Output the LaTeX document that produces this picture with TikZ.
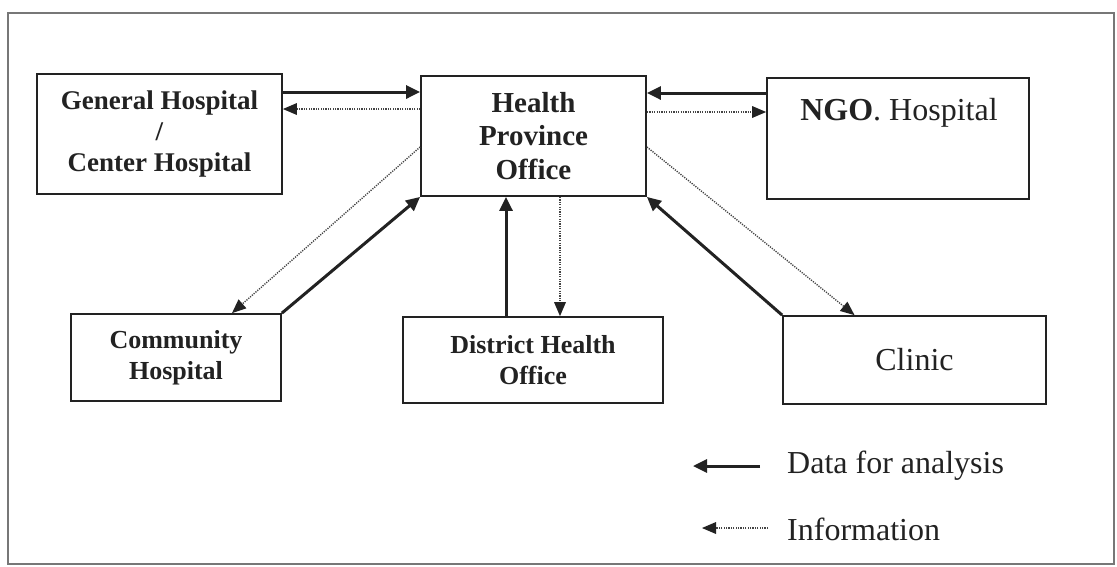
\documentclass[tikz,border=0pt]{standalone}
\usepackage{fontspec}
\setmainfont{Liberation Serif}
\usetikzlibrary{arrows.meta,calc}
\definecolor{ink}{HTML}{222222}
\definecolor{frame}{HTML}{777777}
\definecolor{dotc}{HTML}{444444}
\tikzset{
  box/.style={draw=ink, line width=1.8pt, inner sep=0pt, text=ink},
  data/.style={draw=ink, line width=3pt, -{Triangle[length=14pt,width=13pt]}},
  info/.style={draw=dotc, line width=1.4pt, dash pattern=on 1.2pt off 1.2pt, -{Triangle[length=14pt,width=12pt,fill=ink,line width=0pt]}},
}
\begin{document}
\begin{tikzpicture}[x=1pt,y=-1pt]
\useasboundingbox (0,0) rectangle (1117,566);
\draw[frame, line width=1.4pt] (8,13) rectangle (1114,564);

\node[box, minimum width=245pt, minimum height=120pt, font=\fontsize{27}{31}\selectfont\bfseries, align=center] (gen) at (159.5,134) {General Hospital\\/\\Center Hospital};
\node[box, minimum width=225pt, minimum height=120pt, font=\fontsize{29}{33.5}\selectfont\bfseries, align=center] (hpo) at (533.5,136) {Health\\Province\\Office};
\node[box, minimum width=262pt, minimum height=121pt] (ngo) at (898,138.5) {};
\node[text=ink, font=\fontsize{32}{36}\selectfont, anchor=base] (ngot) at (899,120) {\textbf{NGO}. Hospital};
\node[box, minimum width=210pt, minimum height=87pt, font=\fontsize{26}{31}\selectfont\bfseries, align=center] (com) at (176,357.5) {Community\\Hospital};
\node[box, minimum width=260pt, minimum height=86pt, font=\fontsize{26}{31}\selectfont\bfseries, align=center] (dho) at (533,360) {District Health\\Office};
\node[box, minimum width=263pt, minimum height=88pt, font=\fontsize{32}{36}\selectfont] (cli) at (914.5,360) {Clinic};

% connectors
\draw[data] ([yshift=42pt]gen.east) -- ([yshift=42pt]gen.east -| hpo.west);
\draw[info] ([yshift=25pt]gen.east -| hpo.west) -- ([yshift=25pt]gen.east);
\draw[data] ([yshift=45.5pt]ngo.west) -- ([yshift=45.5pt]ngo.west -| hpo.east);
\draw[info] ([yshift=24pt]hpo.east) -- ([yshift=24pt]hpo.east -| ngo.west);
\draw[info] ([yshift=-11pt]hpo.east) -- ([xshift=-60pt]cli.north);
\draw[data] (cli.north west) -- (hpo.south east);
\draw[info] ([yshift=-11pt]hpo.west) -- ([xshift=56pt]com.north);
\draw[data] (com.north east) -- (hpo.south west);
\draw[data] ([xshift=-27pt]dho.north) -- ([xshift=-27pt]dho.north |- hpo.south);
\draw[info] ([xshift=26.5pt]hpo.south) -- ([xshift=26.5pt]hpo.south |- dho.north);

% legend
\coordinate (l1s) at (760,466);
\coordinate (l1e) at (693,466);
\coordinate (l2s) at (768,528);
\coordinate (l2e) at (702,528);
\draw[data] (l1s) -- (l1e);
\draw[info] (l2s) -- (l2e);
\node[text=ink, font=\fontsize{32}{36}\selectfont, anchor=base west, inner sep=0pt] (ld) at (787,473) {Data for analysis};
\node[text=ink, font=\fontsize{32}{36}\selectfont, anchor=base west, inner sep=0pt] (li) at (787,540) {Information};
\end{tikzpicture}
\end{document}
